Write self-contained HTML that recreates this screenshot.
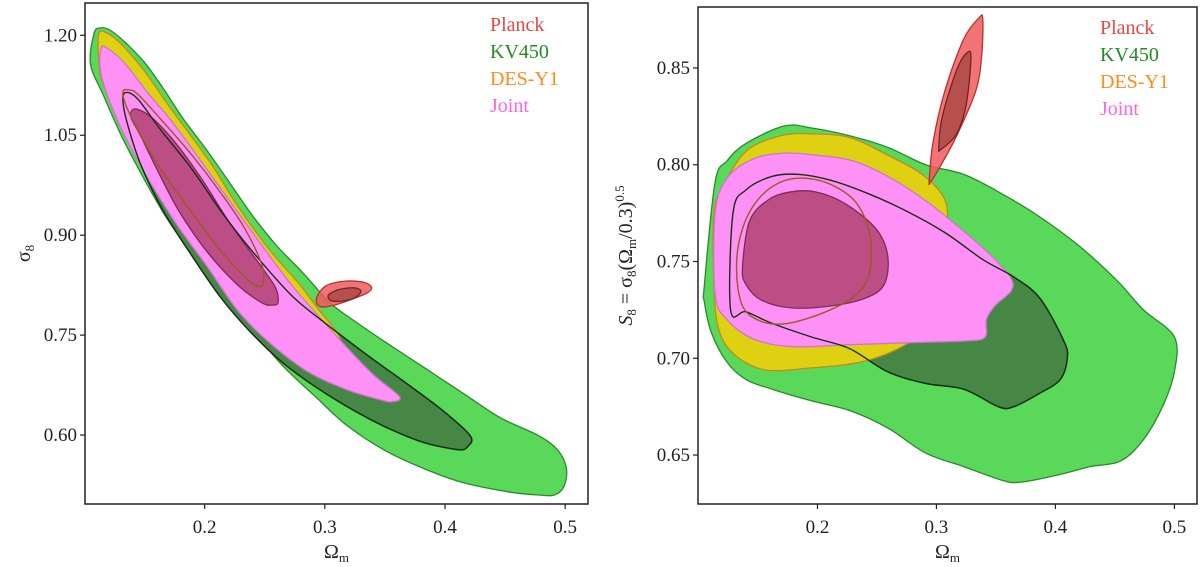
<!DOCTYPE html>
<html><head><meta charset="utf-8">
<style>
body{margin:0;background:#fff;}
svg{display:block;font-family:"Liberation Serif",serif;}
</style></head>
<body>
<svg id="chart" width="1200" height="567" viewBox="0 0 1200 567"></svg>
<script>
// ---- Left panel data (Omega_m, sigma_8) ----
const leftKvOuter=[[0.105,1.157],[0.108,1.203],[0.113,1.211],[0.121,1.208],[0.134,1.189],[0.150,1.159],[0.166,1.119],[0.182,1.075],[0.202,1.027],[0.221,0.978],[0.240,0.929],[0.259,0.886],[0.282,0.843],[0.304,0.799],[0.324,0.772],[0.350,0.740],[0.382,0.702],[0.414,0.664],[0.446,0.626],[0.478,0.599],[0.494,0.577],[0.501,0.550],[0.499,0.523],[0.491,0.510],[0.478,0.510],[0.452,0.515],[0.414,0.529],[0.382,0.550],[0.350,0.577],[0.318,0.615],[0.292,0.658],[0.266,0.702],[0.240,0.756],[0.221,0.799],[0.195,0.859],[0.169,0.924],[0.150,0.983],[0.131,1.048],[0.115,1.113]];
const leftKvInner=[[0.134,1.114],[0.144,1.105],[0.163,1.059],[0.189,1.000],[0.214,0.935],[0.240,0.875],[0.272,0.810],[0.301,0.767],[0.333,0.723],[0.366,0.680],[0.398,0.637],[0.421,0.599],[0.419,0.583],[0.411,0.578],[0.382,0.589],[0.353,0.610],[0.324,0.637],[0.295,0.669],[0.266,0.707],[0.240,0.751],[0.214,0.805],[0.189,0.870],[0.166,0.935],[0.147,1.005],[0.136,1.065],[0.132,1.100]];
const leftDesOuter=[[0.112,1.203],[0.120,1.202],[0.131,1.186],[0.150,1.146],[0.169,1.097],[0.189,1.048],[0.208,1.000],[0.227,0.945],[0.253,0.880],[0.279,0.826],[0.295,0.788],[0.311,0.751],[0.319,0.707],[0.317,0.701],[0.311,0.703],[0.298,0.718],[0.279,0.734],[0.253,0.767],[0.227,0.810],[0.208,0.853],[0.182,0.918],[0.157,0.983],[0.131,1.059],[0.115,1.130],[0.112,1.160]];
const leftJointOuter=[[0.114,1.181],[0.121,1.178],[0.134,1.157],[0.153,1.113],[0.173,1.070],[0.195,1.016],[0.221,0.951],[0.247,0.886],[0.272,0.826],[0.295,0.778],[0.317,0.734],[0.340,0.691],[0.362,0.658],[0.356,0.650],[0.346,0.653],[0.317,0.669],[0.285,0.696],[0.253,0.740],[0.227,0.788],[0.202,0.853],[0.176,0.918],[0.150,0.994],[0.128,1.070],[0.114,1.140]];
const leftJointInner=[[0.139,1.086],[0.144,1.089],[0.157,1.075],[0.176,1.038],[0.198,0.983],[0.221,0.918],[0.247,0.853],[0.259,0.821],[0.261,0.799],[0.256,0.795],[0.247,0.799],[0.227,0.826],[0.202,0.875],[0.179,0.935],[0.160,1.000],[0.147,1.048],[0.139,1.075]];
const leftDesInner=[[0.132,1.116],[0.137,1.118],[0.144,1.112],[0.163,1.075],[0.189,1.021],[0.214,0.962],[0.234,0.908],[0.248,0.853],[0.248,0.826],[0.243,0.824],[0.234,0.837],[0.214,0.875],[0.189,0.935],[0.163,1.000],[0.144,1.059],[0.134,1.097]];
const leftPlanckOuter=[[0.293,0.805],[0.301,0.824],[0.317,0.831],[0.333,0.829],[0.339,0.821],[0.335,0.813],[0.324,0.805],[0.308,0.795],[0.296,0.793]];
const leftPlanckInner=[[0.303,0.810],[0.311,0.818],[0.324,0.821],[0.330,0.816],[0.325,0.806],[0.314,0.801],[0.305,0.802]];
// ---- Right panel data (Omega_m, S_8) ----
const rightKvOuter=[[0.105,0.738],[0.114,0.791],[0.124,0.802],[0.140,0.811],[0.172,0.820],[0.195,0.819],[0.227,0.815],[0.259,0.809],[0.291,0.800],[0.323,0.795],[0.355,0.785],[0.387,0.773],[0.420,0.758],[0.452,0.740],[0.474,0.725],[0.500,0.711],[0.500,0.693],[0.490,0.675],[0.474,0.658],[0.455,0.647],[0.429,0.644],[0.404,0.640],[0.371,0.636],[0.355,0.637],[0.323,0.644],[0.291,0.651],[0.259,0.664],[0.227,0.673],[0.195,0.678],[0.162,0.684],[0.140,0.689],[0.124,0.698],[0.111,0.713],[0.105,0.729]];
const rightKvInner=[[0.127,0.725],[0.129,0.775],[0.140,0.787],[0.162,0.794],[0.185,0.795],[0.211,0.792],[0.243,0.785],[0.275,0.776],[0.307,0.765],[0.339,0.751],[0.365,0.742],[0.387,0.731],[0.407,0.709],[0.410,0.700],[0.404,0.689],[0.387,0.682],[0.365,0.675],[0.352,0.675],[0.323,0.684],[0.291,0.687],[0.259,0.693],[0.227,0.705],[0.195,0.711],[0.162,0.718],[0.140,0.724]];
const rightDesOuter=[[0.113,0.775],[0.121,0.789],[0.140,0.807],[0.169,0.815],[0.195,0.816],[0.227,0.814],[0.259,0.805],[0.288,0.795],[0.307,0.782],[0.310,0.765],[0.315,0.745],[0.310,0.729],[0.294,0.716],[0.268,0.705],[0.236,0.698],[0.195,0.695],[0.156,0.694],[0.130,0.702],[0.117,0.715],[0.113,0.738]];
const rightJointOuter=[[0.114,0.775],[0.124,0.793],[0.146,0.803],[0.172,0.806],[0.198,0.805],[0.230,0.802],[0.262,0.793],[0.294,0.780],[0.326,0.764],[0.346,0.753],[0.362,0.742],[0.363,0.735],[0.349,0.727],[0.342,0.720],[0.341,0.711],[0.326,0.709],[0.275,0.708],[0.227,0.707],[0.178,0.706],[0.146,0.710],[0.124,0.720],[0.114,0.733]];
const rightJointInner=[[0.137,0.747],[0.143,0.771],[0.159,0.782],[0.178,0.786],[0.198,0.786],[0.223,0.780],[0.249,0.767],[0.259,0.753],[0.256,0.738],[0.240,0.731],[0.211,0.727],[0.178,0.726],[0.153,0.730],[0.140,0.738]];
const rightDesInner=[[0.132,0.747],[0.137,0.767],[0.150,0.782],[0.169,0.791],[0.191,0.793],[0.214,0.789],[0.233,0.780],[0.244,0.764],[0.244,0.745],[0.233,0.733],[0.207,0.724],[0.175,0.718],[0.153,0.719],[0.137,0.727]];
const rightPlanckOuter=[[0.294,0.792],[0.297,0.811],[0.307,0.838],[0.323,0.865],[0.336,0.876],[0.339,0.875],[0.338,0.856],[0.333,0.838],[0.317,0.815],[0.304,0.800],[0.295,0.791]];
const rightPlanckInner=[[0.302,0.809],[0.305,0.825],[0.317,0.849],[0.326,0.858],[0.329,0.855],[0.325,0.831],[0.317,0.816],[0.304,0.808]];
// ---- Ticks ----
const xTicks=[0.2,0.3,0.4,0.5];
const xTickLabels=["0.2","0.3","0.4","0.5"];
const leftYTicks=[0.60,0.75,0.90,1.05,1.20];
const leftYTickLabels=["0.60","0.75","0.90","1.05","1.20"];
const rightYTicks=[0.65,0.70,0.75,0.80,0.85];
const rightYTickLabels=["0.65","0.70","0.75","0.80","0.85"];
const legendLabels=["Planck","KV450","DES-Y1","Joint"];
const legendColors=["#e84545","#238b23","#ff8c1a","#ff66dd"];

const NS="http://www.w3.org/2000/svg";
const svg=document.getElementById('chart');
function mk(tag,attrs,parent){const e=document.createElementNS(NS,tag);for(const k in attrs)e.setAttribute(k,attrs[k]);(parent||svg).appendChild(e);return e;}

function makePanel(name,box,xd,yd){
  const g=mk('g',{});
  
  
  const sx=v=>box.l+(v-xd[0])/(xd[1]-xd[0])*(box.r-box.l);
  const sy=v=>box.b-(v-yd[0])/(yd[1]-yd[0])*(box.b-box.t);
  return {g,sx,sy,box};
}
function smoothPath(pts,p){
  const P=pts.map(d=>[p.sx(d[0]),p.sy(d[1])]);const n=P.length;
  let s='M'+P[0][0].toFixed(1)+','+P[0][1].toFixed(1);
  for(let i=0;i<n;i++){const p0=P[(i-1+n)%n],p1=P[i],p2=P[(i+1)%n],p3=P[(i+2)%n];
    const c1=[p1[0]+(p2[0]-p0[0])/6,p1[1]+(p2[1]-p0[1])/6],c2=[p2[0]-(p3[0]-p1[0])/6,p2[1]-(p3[1]-p1[1])/6];
    s+='C'+c1[0].toFixed(1)+','+c1[1].toFixed(1)+' '+c2[0].toFixed(1)+','+c2[1].toFixed(1)+' '+p2[0].toFixed(1)+','+p2[1].toFixed(1);}
  return s+'Z';
}
function contour(p,pts,name,fill,stroke,sw){
  const e=mk('path',{d:smoothPath(pts,p),fill:fill,stroke:stroke,'stroke-width':sw||1.3,'stroke-linejoin':'round'},p.g);
  
  
}
function axes(p,yt,ytl,title){
  const b=p.box;
  const r=mk('rect',{x:b.l,y:b.t,width:b.r-b.l,height:b.b-b.t,fill:'none',stroke:'#222','stroke-width':1.5},p.g);
  
  
  xTicks.forEach((v,i)=>{const x=p.sx(v);
    mk('line',{x1:x,x2:x,y1:b.b,y2:b.b+5,stroke:'#222','stroke-width':1.2},p.g);
    const t=mk('text',{x:x,y:b.b+29,'text-anchor':'middle','font-size':19,fill:'#222'},p.g);t.textContent=xTickLabels[i];
    
    });
  yt.forEach((v,i)=>{const y=p.sy(v);
    mk('line',{x1:b.l-5,x2:b.l,y1:y,y2:y,stroke:'#222','stroke-width':1.2},p.g);
    const t=mk('text',{x:b.l-8,y:y+6,'text-anchor':'end','font-size':19,fill:'#222'},p.g);t.textContent=ytl[i];
    
    });
  const xt=mk('text',{x:(b.l+b.r)/2,y:b.b+54,'text-anchor':'middle','font-size':20,fill:'#222'},p.g);
  xt.innerHTML='Ω<tspan font-size="13" dy="4">m</tspan>';
  
  
  const yx=title.x,yy=(b.t+b.b)/2;
  const ytt=mk('text',{x:yx,y:yy,'text-anchor':'middle','font-size':20,fill:'#222',transform:'rotate(-90 '+yx+' '+yy+')'},p.g);
  ytt.innerHTML=title.html;
  
  
}
function legend(p,x,y0){
  legendLabels.forEach((l,i)=>{const t=mk('text',{x:x,y:y0+i*27,'font-size':20,fill:legendColors[i]},p.g);t.textContent=l;
    
    });
}
function draw(p,d){
  contour(p,d.kvO,'kv450-outer-contour','#5ad85a','#2a8a2a');
  contour(p,d.kvI,'kv450-inner-contour','#468746','#163016');
  contour(p,d.desO,'desy1-outer-contour','#dfd112','#c08a20');
  contour(p,d.jO,'joint-outer-contour','#ff90f6','#c878c8');
  contour(p,d.jI,'joint-inner-contour','#bd4d85','#7a2d55');
  contour(p,d.kvI,'kv450-inner-line','none','#163016',1.4);
  contour(p,d.desI,'desy1-inner-line','none','#9a5a20',1.4);
  contour(p,d.pO,'planck-outer-contour','rgba(240,90,90,0.85)','#b83030');
  contour(p,d.pI,'planck-inner-contour','#b84f4f','#6e2424');
}
const L=makePanel('left-panel',{l:85,r:588,t:3,b:504},[0.1004,0.519],[0.4965,1.2485]);
draw(L,{kvO:leftKvOuter,kvI:leftKvInner,desO:leftDesOuter,jO:leftJointOuter,jI:leftJointInner,desI:leftDesInner,pO:leftPlanckOuter,pI:leftPlanckInner});
axes(L,leftYTicks,leftYTickLabels,{x:30,html:'σ<tspan font-size="13" dy="4">8</tspan>'});
legend(L,490,31);
const R=makePanel('right-panel',{l:698,r:1197,t:7,b:504},[0.0996,0.519],[0.6247,0.8815]);
draw(R,{kvO:rightKvOuter,kvI:rightKvInner,desO:rightDesOuter,jO:rightJointOuter,jI:rightJointInner,desI:rightDesInner,pO:rightPlanckOuter,pI:rightPlanckInner});
axes(R,rightYTicks,rightYTickLabels,{x:632,html:'<tspan font-style="italic">S</tspan><tspan font-size="13" dy="4">8</tspan><tspan dy="-4"> = σ</tspan><tspan font-size="13" dy="4">8</tspan><tspan dy="-4">(Ω</tspan><tspan font-size="13" dy="4">m</tspan><tspan dy="-4">/0.3)</tspan><tspan font-size="13" dy="-8">0.5</tspan>'});
legend(R,1100,34);
</script>
</body></html>
